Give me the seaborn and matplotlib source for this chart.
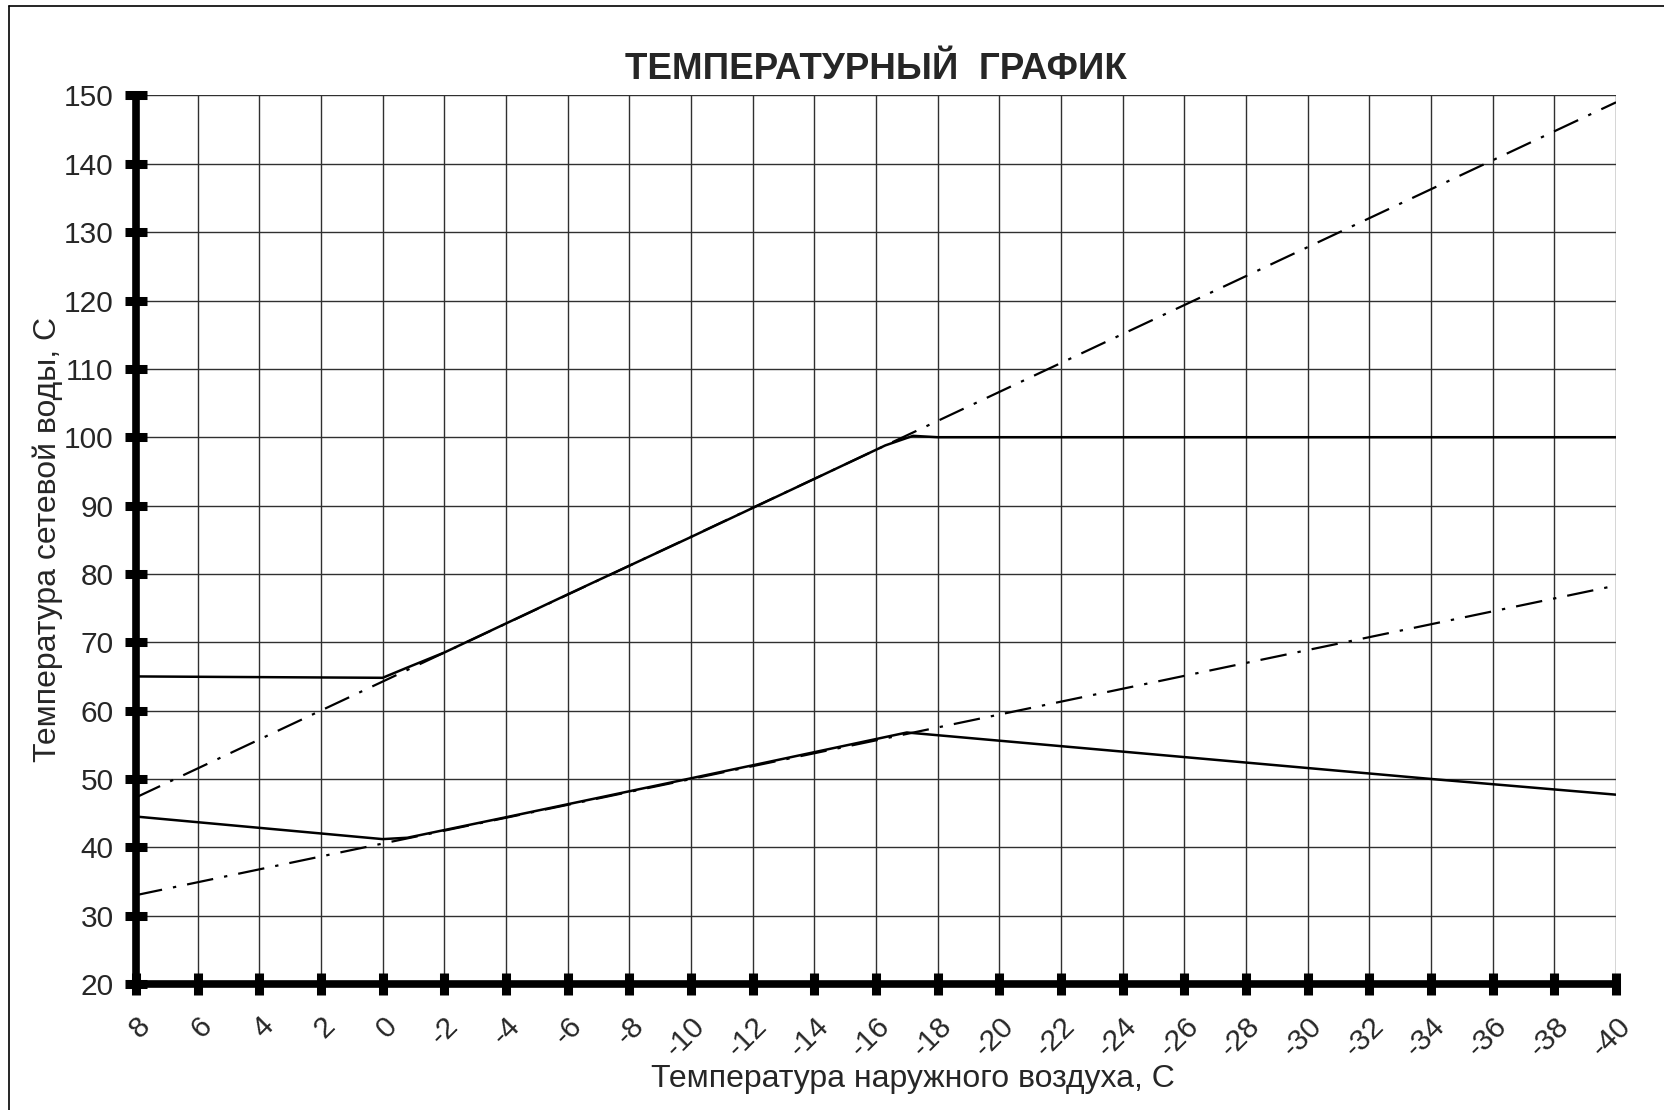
import matplotlib
matplotlib.use("Agg")
import matplotlib.pyplot as plt
import seaborn as sns
import pandas as pd
from matplotlib.lines import Line2D

sns.set_style("white")
plt.rcParams['font.family'] = ['Liberation Sans', 'DejaVu Sans']

# Outdoor air temperature, C
x_supply_design = [8, -40]
supply_design = [47.3, 149.0]          # dash-dot supply curve
x_return_design = [8, -40]
return_design = [33.0, 78.3]           # dash-dot return curve

x_supply = [8, 0, -0.8, -2, -6, -10, -14, -16.3, -17.2, -18, -40]
supply = [65.0, 64.8, 66.3, 68.5, 77.0, 85.4, 93.9, 98.8, 100.2, 100.0, 100.0]

x_return = [8, 0, -0.8, -4, -8, -12, -17, -20, -34, -40]
return_ = [44.5, 41.2, 41.4, 44.4, 48.2, 52.0, 56.8, 55.6, 50.0, 47.7]

x_ticks = list(range(8, -41, -2))
y_ticks = list(range(20, 151, 10))

title = "ТЕМПЕРАТУРНЫЙ  ГРАФИК"
xlabel = "Температура наружного воздуха, С"
ylabel = "Температура сетевой воды, С"

fig = plt.figure(figsize=(16.64, 11.10), dpi=100)
ax = fig.add_axes([0.0817, 0.1135, 0.8895, 0.8005])

df_sd = pd.DataFrame({"x": x_supply_design, "y": supply_design})
df_rd = pd.DataFrame({"x": x_return_design, "y": return_design})
df_s = pd.DataFrame({"x": x_supply, "y": supply})
df_r = pd.DataFrame({"x": x_return, "y": return_})

dashdot = (0, (12, 5, 1.5, 5))
sns.lineplot(data=df_sd, x="x", y="y", ax=ax, color="black", lw=1.6,
             linestyle=dashdot, sort=False, estimator=None, zorder=3)
sns.lineplot(data=df_rd, x="x", y="y", ax=ax, color="black", lw=1.6,
             linestyle=dashdot, sort=False, estimator=None, zorder=3)
sns.lineplot(data=df_s, x="x", y="y", ax=ax, color="black", lw=1.8,
             sort=False, estimator=None, zorder=4)
sns.lineplot(data=df_r, x="x", y="y", ax=ax, color="black", lw=1.8,
             sort=False, estimator=None, zorder=4)

ax.set_xlim(8, -40)
ax.set_ylim(20, 150)
ax.set_xticks(x_ticks)
ax.set_yticks(y_ticks)
ax.set_xticklabels([str(v) for v in x_ticks], rotation=45, ha="right",
                   va="top", rotation_mode="anchor", fontsize=21.5)
ax.set_yticklabels([str(v) for v in y_ticks], fontsize=21.5)
ax.grid(True, color="#303030", lw=1.0)
ax.set_axisbelow(True)

for s in ["top", "right"]:
    ax.spines[s].set_visible(False)
for s in ["left", "bottom"]:
    ax.spines[s].set_linewidth(5.5)
    ax.spines[s].set_color("black")
    ax.spines[s].set_capstyle("projecting")
ax.tick_params(axis="both", which="major", bottom=True, left=True,
               direction="inout", length=16, width=6.5, color="black", pad=8)
ax.tick_params(axis="x", pad=12)

ax.set_title(title, fontsize=26.5, fontweight="bold", pad=12)
ax.set_xlabel(xlabel, fontsize=23)
ax.xaxis.set_label_coords(0.525, -0.09)
ax.set_ylabel(ylabel, fontsize=23, labelpad=1)

# figure border (left & top visible)
fig.add_artist(Line2D([9/1664, 9/1664], [0, 1 - 6/1110], color="black",
                      lw=1.2, transform=fig.transFigure))
fig.add_artist(Line2D([9/1664, 1], [1 - 6/1110, 1 - 6/1110], color="black",
                      lw=1.2, transform=fig.transFigure))

fig.savefig("out.png", dpi=100)
